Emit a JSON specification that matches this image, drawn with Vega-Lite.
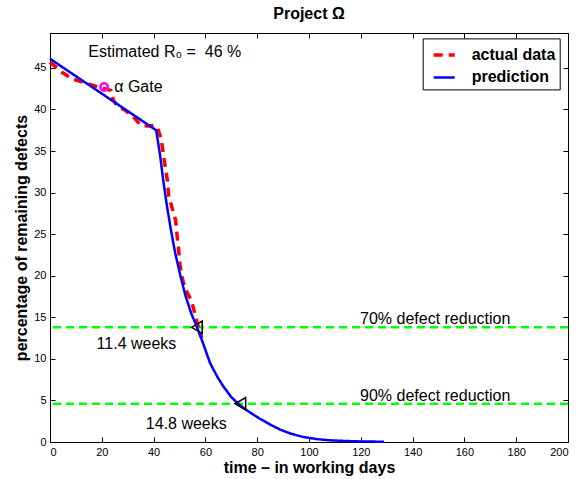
{
  "$schema": "https://vega.github.io/schema/vega-lite/v6.json",
  "width": 518,
  "height": 409,
  "autosize": "none",
  "padding": {"left": 50, "top": 33, "right": 16, "bottom": 37},
  "background": "white",
  "title": {"text": "Project Ω", "fontSize": 16, "fontWeight": "bold", "font": "Liberation Sans", "color": "black", "offset": 11, "anchor": "middle"},
  "config": {
    "font": "Liberation Sans",
    "view": {"stroke": "black", "strokeWidth": 1},
    "axis": {"grid": false, "domainColor": "black", "tickColor": "black", "labelColor": "black", "labelFontSize": 11, "labelFont": "Liberation Sans", "titleColor": "black", "titleFontSize": 16, "titleFontWeight": "bold", "titleFont": "Liberation Sans", "tickSize": -5, "labelPadding": 9},
    "legend": {"labelFontSize": 16, "labelFontWeight": "bold", "labelColor": "black", "labelFont": "Liberation Sans"}
  },
  "datasets": {
    "curves": [
      {"series": "actual data", "t": 0, "v": 45.7},
      {"series": "actual data", "t": 4.5, "v": 44.5},
      {"series": "actual data", "t": 8.4, "v": 43.7},
      {"series": "actual data", "t": 13.5, "v": 43.2},
      {"series": "actual data", "t": 18.5, "v": 42.7},
      {"series": "actual data", "t": 21, "v": 42.5},
      {"series": "actual data", "t": 23.5, "v": 42.3},
      {"series": "actual data", "t": 24.5, "v": 41.1},
      {"series": "actual data", "t": 26, "v": 40.4},
      {"series": "actual data", "t": 29, "v": 39.9},
      {"series": "actual data", "t": 32, "v": 39.2},
      {"series": "actual data", "t": 35, "v": 38.1},
      {"series": "actual data", "t": 38, "v": 38.0},
      {"series": "actual data", "t": 40.5, "v": 38.1},
      {"series": "actual data", "t": 41.5, "v": 37.8},
      {"series": "actual data", "t": 42.9, "v": 36.5},
      {"series": "actual data", "t": 44.4, "v": 33.3},
      {"series": "actual data", "t": 45.3, "v": 31.5},
      {"series": "actual data", "t": 45.8, "v": 29.7},
      {"series": "actual data", "t": 47, "v": 28.3},
      {"series": "actual data", "t": 48.5, "v": 26.7},
      {"series": "actual data", "t": 48.9, "v": 25.3},
      {"series": "actual data", "t": 49.6, "v": 23.3},
      {"series": "actual data", "t": 50.2, "v": 21.3},
      {"series": "actual data", "t": 50.9, "v": 19.9},
      {"series": "actual data", "t": 52.1, "v": 18.5},
      {"series": "actual data", "t": 54.7, "v": 16.9},
      {"series": "actual data", "t": 56.7, "v": 14.5},
      {"series": "actual data", "t": 58.6, "v": 12.5},
      {"series": "prediction", "t": 0, "v": 46.1},
      {"series": "prediction", "t": 41, "v": 37.5},
      {"series": "prediction", "t": 42.5, "v": 34.5},
      {"series": "prediction", "t": 43.8, "v": 31.3},
      {"series": "prediction", "t": 45.1, "v": 28.5},
      {"series": "prediction", "t": 46.7, "v": 25.5},
      {"series": "prediction", "t": 48.3, "v": 22.8},
      {"series": "prediction", "t": 50.2, "v": 20.2},
      {"series": "prediction", "t": 52.3, "v": 17.6},
      {"series": "prediction", "t": 54.5, "v": 15.5},
      {"series": "prediction", "t": 56.5, "v": 14.0},
      {"series": "prediction", "t": 58.6, "v": 12.3},
      {"series": "prediction", "t": 61.8, "v": 9.5},
      {"series": "prediction", "t": 64.5, "v": 7.9},
      {"series": "prediction", "t": 66.9, "v": 6.7},
      {"series": "prediction", "t": 70, "v": 5.4},
      {"series": "prediction", "t": 73.4, "v": 4.4},
      {"series": "prediction", "t": 77, "v": 3.6},
      {"series": "prediction", "t": 81, "v": 2.8},
      {"series": "prediction", "t": 85, "v": 2.1},
      {"series": "prediction", "t": 88.8, "v": 1.5},
      {"series": "prediction", "t": 93, "v": 1.0},
      {"series": "prediction", "t": 97.8, "v": 0.6},
      {"series": "prediction", "t": 103, "v": 0.35},
      {"series": "prediction", "t": 108, "v": 0.2},
      {"series": "prediction", "t": 118, "v": 0.08},
      {"series": "prediction", "t": 129, "v": 0.03}
    ],
    "levels": [{"v": 13.8}, {"v": 4.6}],
    "markers": [{"t": 56.7, "v": 13.8}, {"t": 73.5, "v": 4.6}],
    "gate": [{"t": 20.9, "v": 42.7}],
    "labels": [
      {"t": 14.8, "v": 46.97, "text": "Estimated R₀ = \u00a046 %"},
      {"t": 24.8, "v": 42.68, "text": "α Gate"},
      {"t": 18.0, "v": 11.76, "text": "11.4 weeks"},
      {"t": 37.0, "v": 2.17, "text": "14.8 weeks"},
      {"t": 119.7, "v": 14.76, "text": "70% defect reduction"},
      {"t": 119.7, "v": 5.57, "text": "90% defect reduction"}
    ]
  },
  "layer": [
    {
      "data": {"name": "levels"},
      "mark": {"type": "rule", "color": "#00ff00", "strokeWidth": 2.5, "strokeDash": [8, 5]},
      "encoding": {
        "y": {"field": "v", "type": "quantitative", "scale": {"domain": [0, 49.2], "nice": false, "zero": false}, "axis": null}
      }
    },
    {
      "data": {"name": "curves"},
      "mark": {"type": "line"},
      "encoding": {
        "x": {"field": "t", "type": "quantitative", "scale": {"domain": [0, 200], "nice": false}, "axis": {"orient": "bottom", "values": [0, 20, 40, 60, 80, 100, 120, 140, 160, 180, 200], "title": "time – in working days", "titlePadding": 2}},
        "y": {"field": "v", "type": "quantitative", "scale": {"domain": [0, 49.2], "nice": false, "zero": false}, "axis": {"orient": "left", "values": [0, 5, 10, 15, 20, 25, 30, 35, 40, 45], "title": "percentage of remaining defects", "titlePadding": 4}},
        "color": {"field": "series", "type": "nominal", "scale": {"domain": ["actual data", "prediction"], "range": ["#ff0000", "#0000ff"]},
          "legend": {"title": null, "orient": "none", "legendX": 372.7, "legendY": 5.4, "strokeColor": "black", "fillColor": "white", "padding": 4, "symbolType": "stroke", "symbolSize": 441, "symbolStrokeWidth": 2.5, "labelOffset": 15, "symbolOffset": 5, "rowPadding": 2}},
        "strokeDash": {"field": "series", "type": "nominal", "scale": {"domain": ["actual data", "prediction"], "range": [[9, 6], [1, 0]]},
          "legend": {"title": null, "orient": "none", "legendX": 372.7, "legendY": 5.4, "strokeColor": "black", "fillColor": "white", "padding": 4, "symbolType": "stroke", "symbolSize": 441, "symbolStrokeWidth": 2.5, "labelOffset": 15, "symbolOffset": 5, "rowPadding": 2}},
        "strokeWidth": {"field": "series", "type": "ordinal", "scale": {"domain": ["actual data", "prediction"], "range": [3.5, 2.5]}, "legend": null}
      }
    },
    {
      "data": {"name": "markers"},
      "mark": {"type": "point", "shape": "triangle-left", "size": 150, "stroke": "black", "strokeWidth": 1.5, "filled": false, "opacity": 1},
      "encoding": {
        "x": {"field": "t", "type": "quantitative", "axis": null},
        "y": {"field": "v", "type": "quantitative", "axis": null}
      }
    },
    {
      "data": {"name": "gate"},
      "mark": {"type": "point", "shape": "circle", "size": 55, "stroke": "#ff00ff", "strokeWidth": 2.5, "filled": false, "opacity": 1},
      "encoding": {
        "x": {"field": "t", "type": "quantitative", "axis": {"orient": "top", "values": [0, 20, 40, 60, 80, 100, 120, 140, 160, 180, 200], "labels": false, "title": null, "domain": false}},
        "y": {"field": "v", "type": "quantitative", "axis": {"orient": "right", "values": [0, 5, 10, 15, 20, 25, 30, 35, 40, 45], "labels": false, "title": null, "domain": false}}
      }
    },
    {
      "data": {"name": "labels"},
      "mark": {"type": "text", "align": "left", "baseline": "middle", "fontSize": 16, "font": "Liberation Sans", "color": "black"},
      "encoding": {
        "x": {"field": "t", "type": "quantitative", "axis": null},
        "y": {"field": "v", "type": "quantitative", "axis": null},
        "text": {"field": "text"}
      }
    }
  ],
  "resolve": {"axis": {"x": "independent", "y": "independent"}}
}
